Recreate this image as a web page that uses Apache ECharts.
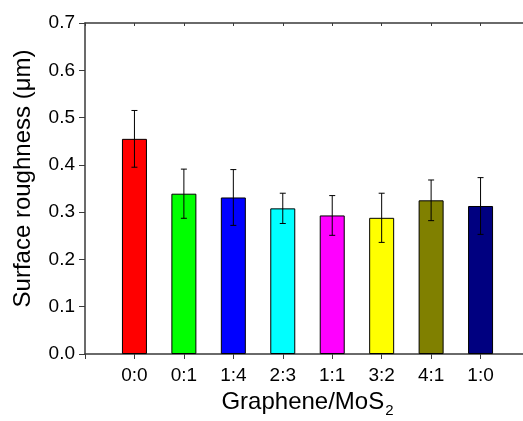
<!DOCTYPE html>
<html>
<head>
<meta charset="utf-8">
<script src="https://cdn.jsdelivr.net/npm/echarts@6/dist/echarts.min.js"></script>
<style>
  html, body { margin: 0; padding: 0; background: #fff; }
  #main { width: 523px; height: 421px; }
</style>
</head>
<body>
<div id="main"></div>
<script>
// 石墨烯/MoS2 比例 - 表面粗糙度
var ratios = ['0:0', '0:1', '1:4', '2:3', '1:1', '3:2', '4:1', '1:0'];
var roughness = [0.455, 0.339, 0.331, 0.308, 0.293, 0.288, 0.325, 0.313];
var roughErr = [0.060, 0.052, 0.059, 0.032, 0.042, 0.052, 0.043, 0.060];
var barColors = ['#ff0000', '#00ff00', '#0000ff', '#00ffff', '#ff00ff', '#ffff00', '#808000', '#000080'];

var FONT = '"Liberation Sans", Arial, sans-serif';
var AXIS_COLOR = '#3a3a3a';

var barData = [];
var errData = [];
for (var i = 0; i < ratios.length; i++) {
	barData.push({
		value: [i, roughness[i]],
		itemStyle: { color: barColors[i] }
	});
	errData.push([i, roughness[i] - roughErr[i], roughness[i] + roughErr[i]]);
}

// 误差棒
function renderErr(params, api) {
	var lo = api.coord([api.value(0), api.value(1)]);
	var hi = api.coord([api.value(0), api.value(2)]);
	var half = 3;
	var style = { stroke: '#000', lineWidth: 1 };
	return {
		type: 'group',
		children: [
			{ type: 'line', shape: { x1: lo[0], y1: lo[1], x2: hi[0], y2: hi[1] }, style: style },
			{ type: 'line', shape: { x1: lo[0] - half, y1: lo[1], x2: lo[0] + half, y2: lo[1] }, style: style },
			{ type: 'line', shape: { x1: hi[0] - half, y1: hi[1], x2: hi[0] + half, y2: hi[1] }, style: style }
		]
	};
}

var chart = echarts.init(document.getElementById('main'));
var option = {
	animation: false,
	backgroundColor: '#fff',
	grid: { left: 85, top: 23, bottom: 67, right: -7, outerBoundsMode: 'none', containLabel: false },
	xAxis: [
		{
			type: 'value',
			min: -1,
			max: 8,
			interval: 1,
			splitLine: { show: false },
			axisLine: { show: true, onZero: false, lineStyle: { color: AXIS_COLOR, width: 1.5 } },
			axisTick: { show: true, length: 5, lineStyle: { color: AXIS_COLOR } },
			axisLabel: {
				color: '#000',
				fontSize: 19,
				fontFamily: FONT,
				margin: 12,
				formatter: function (v) { return ratios[v] || ''; }
			},
			name: 'Graphene/MoS{sub|2}',
			nameLocation: 'middle',
			nameGap: 33,
			nameTextStyle: {
				color: '#000',
				fontSize: 24,
				fontFamily: FONT,
				rich: {
					sub: { fontSize: 15, fontFamily: FONT, color: '#000', padding: [16, 0, 0, 1] }
				}
			}
		},
		{
			type: 'value',
			position: 'top',
			min: -1,
			max: 8,
			interval: 1,
			splitLine: { show: false },
			axisLine: { show: true, onZero: false, lineStyle: { color: AXIS_COLOR, width: 1.5 } },
			axisTick: { show: true, inside: true, length: 3, lineStyle: { color: AXIS_COLOR } },
			axisLabel: { show: false }
		}
	],
	yAxis: {
		type: 'value',
		min: 0,
		max: 0.7,
		interval: 0.1,
		splitLine: { show: false },
		axisLine: { show: true, onZero: false, lineStyle: { color: AXIS_COLOR, width: 1.5 } },
		axisTick: { show: true, length: 6, lineStyle: { color: AXIS_COLOR } },
		axisLabel: {
			color: '#000',
			fontSize: 19,
			fontFamily: FONT,
			margin: 10,
			formatter: function (v) { return v.toFixed(1); }
		},
		name: 'Surface roughness (\u03bcm)',
		nameLocation: 'middle',
		nameGap: 50,
		nameTextStyle: { color: '#000', fontSize: 24, fontFamily: FONT, padding: [0, 0, 0, 20] }
	},
	series: [
		{
			type: 'bar',
			xAxisIndex: 0,
			barWidth: 25,
			data: barData,
			itemStyle: { borderColor: '#000', borderWidth: 1 }
		},
		{
			type: 'custom',
			xAxisIndex: 0,
			renderItem: renderErr,
			data: errData,
			z: 5
		}
	]
};
chart.setOption(option);
</script>
</body>
</html>
